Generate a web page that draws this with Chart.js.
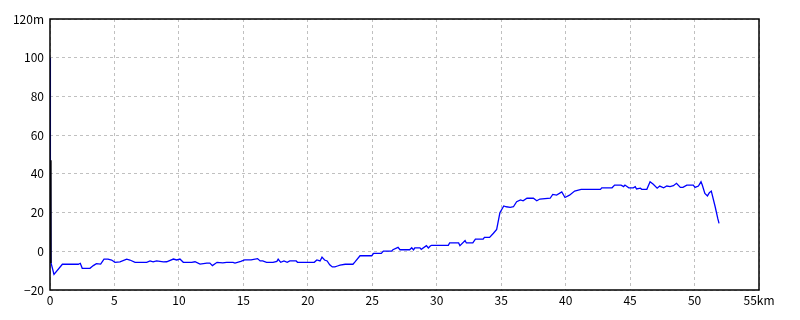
<!DOCTYPE html>
<html>
<head>
<meta charset="utf-8">
<script src="https://cdn.jsdelivr.net/npm/chart.js@4/dist/chart.umd.min.js"></script>
<style>
  html, body { margin: 0; padding: 0; background: #fff; }
  #wrap { width: 800px; height: 320px; }
</style>
</head>
<body>
<div id="wrap"><canvas id="elevChart"></canvas></div>
<script>
// distance (km) and elevation (m) read from the profile
const distKm = [
  0, 0.03, 0.08, 0.31, 0.96, 2.2, 2.35, 2.5, 3.1, 3.36, 3.6, 3.93, 4.19, 4.5, 4.78,
  5.04, 5.43, 5.95, 6.2, 6.6, 7.5, 7.76, 8.0, 8.27, 8.8, 9.05, 9.57, 9.83, 10.08,
  10.34, 10.99, 11.25, 11.64, 12.16, 12.4, 12.6, 12.96, 13.4, 13.7, 14.2, 14.35,
  14.8, 15.1, 15.6, 16.1, 16.3, 16.5, 16.8, 17.3, 17.6, 17.7, 17.9, 18.15, 18.4,
  18.6, 19.1, 19.2, 20.08, 20.5, 20.7, 20.95, 21.1, 21.3, 21.5, 21.7, 21.9, 22.1,
  22.3, 22.5, 22.9, 23.5, 23.66, 24.05, 24.96, 25.1, 25.7, 25.86, 26.5, 26.6,
  27.0, 27.15, 27.9, 28.06, 28.2, 28.3, 28.7, 28.8, 29.2, 29.35, 29.5, 29.6,
  30.9, 31.0, 31.7, 31.8, 32.2, 32.3, 32.8, 33.0, 33.6, 33.7, 34.1, 34.4, 34.65,
  34.9, 35.2, 35.4, 35.7, 35.95, 36.2, 36.5, 36.7, 37.0, 37.5, 37.76, 38.0, 38.8,
  39.0, 39.3, 39.7, 39.95, 40.3, 40.7, 41.2, 42.7, 42.8, 43.6, 43.8, 44.3, 44.5,
  44.6, 44.9, 45.25, 45.4, 45.5, 45.8, 45.9, 46.3, 46.55, 46.8, 47.1, 47.3, 47.6,
  47.85, 48.1, 48.36, 48.6, 48.9, 49.1, 49.4, 49.9, 50.04, 50.3, 50.5, 50.6, 50.8,
  51.0, 51.15, 51.3, 51.6, 51.8, 51.9
];
const elevM = [
  100, 47, -6, -11.9, -6.7, -6.7, -6.2, -8.8, -8.8, -7.4, -6.4, -6.6, -4.1, -4.1, -4.5,
  -5.7, -5.5, -4.1, -4.5, -5.7, -5.7, -5, -5.5, -5, -5.5, -5.4, -4, -4.5, -4,
  -5.7, -5.7, -5.4, -6.6, -6.1, -6.1, -7.4, -5.7, -6, -5.7, -5.7, -6.1,
  -5.2, -4.4, -4.4, -3.8, -5, -5, -5.7, -5.7, -5.2, -4.1, -5.7, -5, -5.7,
  -5, -5, -5.7, -5.7, -5.7, -4.5, -5, -3, -4.5, -5, -7, -8.1, -8.1,
  -7.6, -7.1, -6.7, -6.7, -5.5, -2.3, -2.3, -1.1, -1.1, 0.1, 0.1, 0.8,
  2, 0.8, 0.8, 1.8, 0.7, 1.8, 1.8, 1, 2.9, 1.7, 2.7, 3.1,
  3.1, 4.3, 4.3, 2.9, 5.5, 4.3, 4.3, 6.3, 6.3, 7.2, 7.2, 9.3, 11.3,
  19.9, 23.4, 23.0, 22.7, 23.0, 25.6, 26.5, 26.1, 27.4, 27.4, 26.1, 27, 27.4,
  29.4, 29, 30.7, 27.8, 29, 31.1, 32, 32, 32.8, 32.8, 34.2, 34.2, 33.4,
  34.2, 32.8, 32.8, 33.4, 32.2, 32.6, 32, 32, 35.9, 34.6, 32.6, 33.7, 32.8,
  33.7, 33.4, 33.9, 35.1, 33, 33, 34.2, 34.2, 33, 33.7, 35.9, 34.2, 29.9,
  28.6, 30.3, 31.1, 23, 17, 14.4
];
// short dark stroke right at the start
const startDist = [0.07, 0.07];
const startElev = [47, -6];

const xTicks = [0, 5, 10, 15, 20, 25, 30, 35, 40, 45, 50, 55];
const yTicks = [-20, 0, 20, 40, 60, 80, 100, 120];

const labelFont = { family: "'Noto Sans CJK JP', 'DejaVu Sans'", size: 12 };

// black frame round the plot
const frame = {
  id: 'frame',
  afterDatasetsDraw(chart) {
    const { ctx, chartArea: a } = chart;
    ctx.save();
    ctx.strokeStyle = '#000';
    ctx.lineWidth = 1.5;
    ctx.strokeRect(a.left, a.top, a.right - a.left, a.bottom - a.top);
    ctx.restore();
  }
};

new Chart(document.getElementById('elevChart'), {
  type: 'line',
  data: {
    datasets: [
      {
        data: startDist.map((d, i) => ({ x: d, y: startElev[i] })),
        borderColor: '#000000',
        borderWidth: 1.5,
        pointRadius: 0,
        tension: 0
      },
      {
        data: distKm.map((d, i) => ({ x: d, y: elevM[i] })),
        borderColor: '#0000ff',
        borderWidth: 1.3,
        pointRadius: 0,
        tension: 0
      }
    ]
  },
  options: {
    responsive: true,
    maintainAspectRatio: false,
    animation: false,
    layout: { padding: { top: 19, right: 41, left: 0, bottom: 0 } },
    plugins: { legend: { display: false }, tooltip: { enabled: false } },
    scales: {
      x: {
        type: 'linear',
        min: 0,
        max: 55,
        afterBuildTicks: (s) => { s.ticks = xTicks.map(v => ({ value: v })); },
        afterFit: (s) => { s.height = 30; },
        grid: { color: '#c0c0c0', drawTicks: false },
        border: { display: false, dash: [3, 3] },
        ticks: {
          color: '#000',
          font: labelFont,
          padding: 3,
          maxRotation: 0,
          callback: (v) => v === 55 ? '55km' : String(v)
        }
      },
      y: {
        min: -20,
        max: 120,
        afterBuildTicks: (s) => { s.ticks = yTicks.map(v => ({ value: v })); },
        afterFit: (s) => { s.width = 50; },
        grid: { color: '#c0c0c0', drawTicks: false },
        border: { display: false, dash: [3, 3] },
        ticks: {
          color: '#000',
          font: labelFont,
          padding: 6,
          callback: (v) => v === 120 ? '120m' : (v < 0 ? '\u2212' + Math.abs(v) : String(v))
        }
      }
    }
  },
  plugins: [frame]
});
</script>
</body>
</html>
